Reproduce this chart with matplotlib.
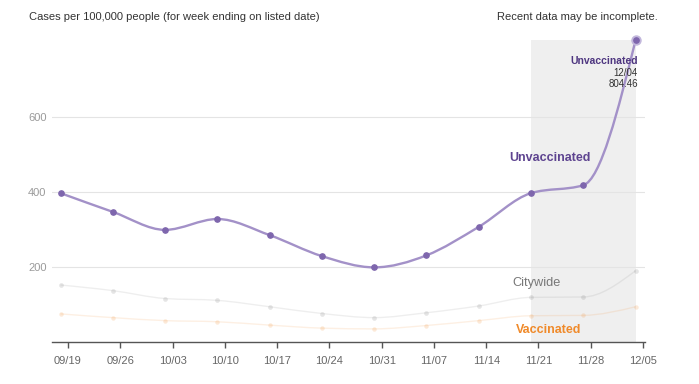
import numpy as np
import matplotlib
matplotlib.use("Agg")
from matplotlib import pyplot as plt
from matplotlib.path import Path
from matplotlib.patches import PathPatch
import matplotlib.dates as mdates

plt.rcParams['font.family'] = ['Liberation Sans', 'DejaVu Sans']

# week ending dates of the data points
dates = ['2021-09-18', '2021-09-25', '2021-10-02', '2021-10-09', '2021-10-16', '2021-10-23',
         '2021-10-30', '2021-11-06', '2021-11-13', '2021-11-20', '2021-11-27', '2021-12-04']
unvaccinated = [397, 347, 299, 328, 285, 229, 199, 231, 307, 397, 418, 804.46]
citywide = [152, 137, 116, 111, 94, 76, 65, 78, 96, 119, 120, 190]
vaccinated = [75, 65, 57, 54, 45, 37, 35, 44, 57, 70, 71, 94]

tick_dates = ['2021-09-19', '2021-09-26', '2021-10-03', '2021-10-10', '2021-10-17', '2021-10-24',
              '2021-10-31', '2021-11-07', '2021-11-14', '2021-11-21', '2021-11-28', '2021-12-05']
tick_labels = ['09/19', '09/26', '10/03', '10/10', '10/17', '10/24',
               '10/31', '11/07', '11/14', '11/21', '11/28', '12/05']
y_ticks = [200, 400, 600]

x = mdates.datestr2num(dates)
xt = mdates.datestr2num(tick_dates)


def monotone_path(xs, ys):
    # monotone cubic curve (like d3.curveMonotoneX) as bezier segments
    xs = np.asarray(xs, float)
    ys = np.asarray(ys, float)
    n = len(xs)
    t = np.zeros(n)
    for i in range(1, n - 1):
        h0 = xs[i] - xs[i - 1]
        h1 = xs[i + 1] - xs[i]
        s0 = (ys[i] - ys[i - 1]) / h0
        s1 = (ys[i + 1] - ys[i]) / h1
        p = (s0 * h1 + s1 * h0) / (h0 + h1)
        t[i] = (np.sign(s0) + np.sign(s1)) * min(abs(s0), abs(s1), 0.5 * abs(p))
    t[0] = (3 * (ys[1] - ys[0]) / (xs[1] - xs[0]) - t[1]) / 2
    t[-1] = (3 * (ys[-1] - ys[-2]) / (xs[-1] - xs[-2]) - t[-2]) / 2
    verts = [(xs[0], ys[0])]
    codes = [Path.MOVETO]
    for i in range(n - 1):
        dx = (xs[i + 1] - xs[i]) / 3
        verts += [(xs[i] + dx, ys[i] + dx * t[i]),
                  (xs[i + 1] - dx, ys[i + 1] - dx * t[i + 1]),
                  (xs[i + 1], ys[i + 1])]
        codes += [Path.CURVE4] * 3
    return Path(verts, codes)


fig = plt.figure(figsize=(6.99, 3.84), dpi=100)
ax = fig.add_axes([52 / 699, 42 / 384, (645 - 52) / 699, 312 / 384])

x_left = xt[0] - 16 / 7.47
x_right = xt[-1] + 2 / 7.47
ax.set_xlim(x_left, x_right)
ax.set_ylim(0, 832)

# shaded "incomplete" region
ax.fill_between([x[9], x[-1]], 0, unvaccinated[-1], color='#efefef', zorder=0, lw=0)

for v in y_ticks:
    ax.plot([x_left, x_right], [v, v], color='#e4e4e4', lw=0.8, zorder=1)

# faint comparison lines (drawn with transparency so they show over the shading)
ax.add_patch(PathPatch(monotone_path(x, vaccinated), fc='none', ec='#f08a2a', alpha=0.13,
                       lw=1.0, zorder=2))
ax.plot(x, vaccinated, 'o', ms=3.2, color='#f08a2a', alpha=0.18, mec='none', zorder=3)
ax.add_patch(PathPatch(monotone_path(x, citywide), fc='none', ec='#808080', alpha=0.13,
                       lw=1.0, zorder=2))
ax.plot(x, citywide, 'o', ms=3.4, color='#808080', alpha=0.2, mec='none', zorder=3)

ax.add_patch(PathPatch(monotone_path(x, unvaccinated), fc='none', ec='#a391c8', lw=1.7, zorder=4))
ax.plot(x, unvaccinated, 'o', ms=3.8, color='#7e66ad', zorder=5)
ax.plot(x[-1], unvaccinated[-1], 'o', ms=6.5, color='#c2b7dc', zorder=5)
ax.plot(x[-1], unvaccinated[-1], 'o', ms=3.8, color='#7e66ad', zorder=6)

# series labels
ax.text(mdates.datestr2num('2021-11-22') + 0.6, 490, 'Unvaccinated', color='#5e4490',
        fontsize=9, fontweight='bold', ha='center', va='center', zorder=7)
ax.text(mdates.datestr2num('2021-11-21') - 0.2, 157, 'Citywide', color='#777777',
        fontsize=9.2, ha='center', va='center', zorder=7)
ax.text(mdates.datestr2num('2021-11-22') + 0.4, 32, 'Vaccinated', color='#f08a2a',
        fontsize=9, fontweight='bold', ha='center', va='center', zorder=7)

# hover annotation
xa = x[-1] + 0.3
ax.text(xa, 750, 'Unvaccinated', color='#4e3680', fontsize=7.5, fontweight='bold',
        ha='right', va='center', zorder=7)
ax.text(xa, 718, '12/04', color='#333333', fontsize=7, ha='right', va='center', zorder=7)
ax.text(xa, 688, '804.46', color='#333333', fontsize=7, ha='right', va='center', zorder=7)

# axes styling
for s in ['top', 'right', 'left']:
    ax.spines[s].set_visible(False)
ax.spines['bottom'].set_color('#555555')
ax.spines['bottom'].set_linewidth(1.0)
ax.set_xticks(xt)
ax.set_xticklabels(tick_labels)
ax.tick_params(axis='x', length=4, width=1, color='#555555', labelcolor='#666666',
               labelsize=8, pad=6)
ax.set_yticks(y_ticks)
ax.set_yticklabels([str(v) for v in y_ticks])
ax.tick_params(axis='y', length=0, labelcolor='#9a9a9a', labelsize=8, pad=4)

fig.text(29 / 699, 1 - 17 / 384, 'Cases per 100,000 people (for week ending on listed date)',
         fontsize=8, color='#333333', ha='left', va='center')
fig.text(658 / 699, 1 - 17 / 384, 'Recent data may be incomplete.',
         fontsize=8, color='#333333', ha='right', va='center')

fig.savefig('out.png', dpi=100)
